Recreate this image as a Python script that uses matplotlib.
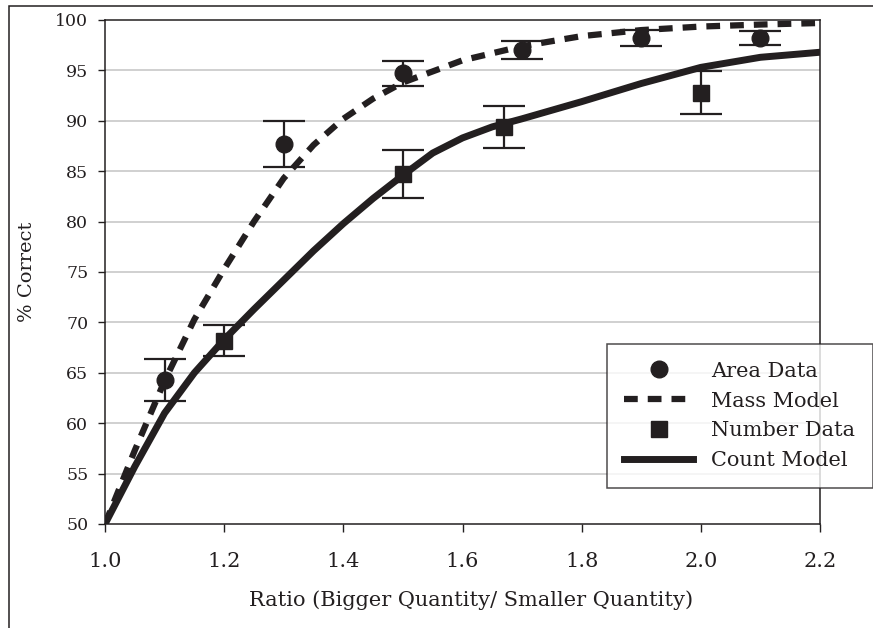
import matplotlib
matplotlib.use("Agg")
import matplotlib.pyplot as plt
from matplotlib.patches import Rectangle
from matplotlib.lines import Line2D

# ----------------------------
# DATA
# ----------------------------
area_x = [1.1, 1.3, 1.5, 1.7, 1.9, 2.1]
area_y = [64.3, 87.7, 94.7, 97.0, 98.2, 98.2]
area_err = [2.1, 2.3, 1.25, 0.9, 0.8, 0.7]

number_x = [1.2, 1.5, 1.67, 2.0]
number_y = [68.2, 84.7, 89.4, 92.8]
number_err = [1.55, 2.4, 2.05, 2.15]

mass_x = [1.0, 1.05, 1.1, 1.15, 1.2, 1.25, 1.3, 1.35, 1.4, 1.45, 1.5,
          1.6, 1.7, 1.8, 1.9, 2.0, 2.1, 2.2]
mass_y = [50.0, 57.3, 64.2, 70.3, 75.3, 80.0, 84.3, 87.6, 90.2, 92.2, 93.8,
          96.0, 97.4, 98.4, 99.0, 99.35, 99.55, 99.7]

count_x = [1.0, 1.05, 1.1, 1.15, 1.2, 1.25, 1.3, 1.35, 1.4, 1.45, 1.5,
           1.55, 1.6, 1.65, 1.7, 1.8, 1.9, 2.0, 2.1, 2.2]
count_y = [50.0, 55.7, 61.0, 65.0, 68.3, 71.3, 74.2, 77.1, 79.8, 82.3, 84.6,
           86.8, 88.3, 89.4, 90.2, 91.9, 93.7, 95.3, 96.3, 96.8]

x_ticks = [1.0, 1.2, 1.4, 1.6, 1.8, 2.0, 2.2]
y_ticks = list(range(50, 101, 5))

INK = "#231f20"
DASH = (2.2, 1.6)

plt.rcParams["font.family"] = "DejaVu Serif"

fig = plt.figure(figsize=(8.73, 6.28), dpi=100)
ax = fig.add_axes([105 / 873, 1 - 524 / 628, (820 - 105) / 873, (524 - 20) / 628])

# grid
for v in y_ticks[1:-1]:
    ax.axhline(v, color="#c8c8c8", lw=1.2, zorder=0)

# models
ax.plot(mass_x, mass_y, color=INK, lw=4.5, dashes=DASH, zorder=3)
ax.plot(count_x, count_y, color=INK, lw=5, zorder=3)

# data
ax.errorbar(area_x, area_y, yerr=area_err, fmt="o", color=INK, ms=12,
            elinewidth=1.6, capsize=15, capthick=1.6, zorder=4)
ax.errorbar(number_x, number_y, yerr=number_err, fmt="s", color=INK, ms=11,
            elinewidth=1.6, capsize=15, capthick=1.6, zorder=4)

ax.set_xlim(1.0, 2.2)
ax.set_ylim(50, 100)
ax.set_xticks(x_ticks)
ax.set_xticklabels([f"{v:.1f}" for v in x_ticks], fontsize=15)
ax.set_yticks(y_ticks)
ax.set_yticklabels([str(v) for v in y_ticks], fontsize=12.5)
ax.tick_params(axis="y", direction="out", length=5, width=1, pad=7, colors=INK)
ax.tick_params(axis="x", direction="out", length=6, width=1, pad=14, colors=INK)

for s in ax.spines.values():
    s.set_color(INK)
    s.set_linewidth(1.1)

ax.set_ylabel("% Correct", fontsize=14, color=INK)
ax.yaxis.set_label_coords(-0.097, 0.5)
ax.set_xlabel("Ratio (Bigger Quantity/ Smaller Quantity)", fontsize=15, color=INK)
ax.xaxis.set_label_coords(0.512, -(590 - 524) / 504)

# legend
handles = [
    Line2D([], [], marker="o", ls="none", color=INK, ms=12),
    Line2D([], [], color=INK, lw=4.5, dashes=DASH),
    Line2D([], [], marker="s", ls="none", color=INK, ms=11),
    Line2D([], [], color=INK, lw=5),
]
labels = ["Area Data", "Mass Model", "Number Data", "Count Model"]
leg = fig.legend(handles, labels, loc="upper right",
                 bbox_to_anchor=(0.9995, 1 - 344 / 628), fontsize=15,
                 frameon=True, fancybox=False, edgecolor=INK,
                 handlelength=3.3, handletextpad=0.85, borderpad=0.85,
                 labelspacing=0.52, borderaxespad=0)
leg.get_frame().set_linewidth(1.1)
for t in leg.get_texts():
    t.set_color(INK)

# outer frame
fig.patches.append(Rectangle((9 / 873, -0.05), 1.1, 1 - 6 / 628 + 0.05,
                             transform=fig.transFigure, fill=False,
                             edgecolor=INK, lw=1.1))

fig.savefig("out.png", dpi=100)
